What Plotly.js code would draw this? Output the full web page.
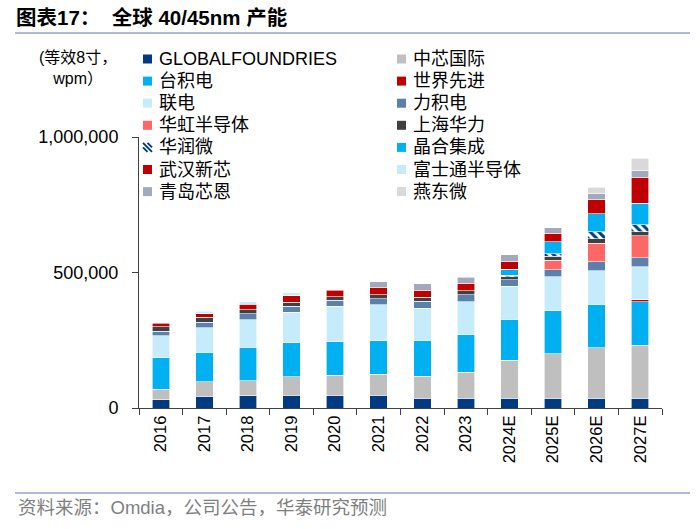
<!DOCTYPE html>
<html>
<head>
<meta charset="utf-8">
<script src="https://cdn.plot.ly/plotly-3.0.1.min.js"></script>
<style>html,body{margin:0;padding:0;background:#fff;}#chart{width:700px;height:529px;}</style>
</head>
<body>
<div id="chart"></div>
<script>
const categories = ['2016','2017','2018','2019','2020','2021','2022','2023','2024E','2025E','2026E','2027E'];
const seriesNames = ['GLOBALFOUNDRIES','中芯国际','台积电','世界先进','联电','力积电','华虹半导体','上海华力','华润微','晶合集成','武汉新芯','富士通半导体','青岛芯恩','燕东微'];
const globalfoundries = [31000,44000,46000,47000,47000,47000,36000,36000,36000,36000,36000,36000];
const smic      = [39000,53000,55000,68000,73000,77000,81000,96000,140000,164000,186000,196000];
const tsmc      = [115000,108000,123000,125000,124000,124000,133000,138000,151000,159000,160000,160000];
const vis       = [0,0,0,0,0,0,0,0,0,0,0,7000];
const umc       = [81000,92000,102000,114000,132000,133000,119000,122000,123000,125000,124000,123000];
const psmc      = [18000,20000,21000,22000,22000,22000,25000,25000,23000,27000,33000,33000];
const huahong   = [0,0,0,0,0,0,0,0,0,34000,69000,80000];
const hlmc      = [15000,17000,16000,15000,12000,15000,14000,15000,12000,15000,16000,15000];
const crmicro   = [0,0,0,0,0,0,0,0,4000,10000,26000,26000];
const nexchip   = [0,0,0,0,0,0,0,0,23000,43000,66000,80000];
const xmc       = [13000,13000,20000,23000,25000,25000,26000,28000,30000,31000,52000,96000];
const fujitsu   = [0,10000,9000,12000,0,0,0,0,0,0,0,0];
const qingdao   = [0,0,0,0,0,23000,25000,23000,23000,22000,23000,23000];
const yandong   = [0,0,0,0,0,0,0,0,0,0,23000,47000];
const yTickVals = [0,500000,1000000];
const yTickText = ['0','500,000','1,000,000'];

const seriesValues = [globalfoundries,smic,tsmc,vis,umc,psmc,huahong,hlmc,crmicro,nexchip,xmc,fujitsu,qingdao,yandong];
const colors = ['#003A80','#BFBFBF','#00B0F0','#C00000','#C6ECFB','#5B80AC','#FF6666','#404040','#003A80','#00B0F0','#C00000','#C6ECFB','#A3A9BD','#D9D9D9'];
const HATCHED = '华润微';

const FONT = '"Liberation Sans", Arial, "Noto Sans CJK SC", sans-serif';
const traces = seriesNames.map((name,i)=>{
  const marker = {color: colors[i], line:{color:'#ffffff', width:0.6}};
  if (name === HATCHED) {
    marker.color = '#ffffff';
    marker.pattern = {shape:'\\', fgcolor:colors[i], bgcolor:'#ffffff', size:6, solidity:0.5, fillmode:'replace'};
  }
  return {
    type:'bar', name:name, x:categories,
    y: seriesValues[i].map(v => v === 0 ? null : v),
    marker: marker, hoverinfo:'skip', showlegend:false
  };
});

const L=139, R=662, T=137, B=408;
const W=R-L, H=B-T;
const px = x => (x-L)/W;
const py = y => (B-y)/H;

const shapes = [
  {type:'line', xref:'paper', yref:'paper', x0:px(15), x1:px(690), y0:py(33), y1:py(33), line:{color:'#8FA6C6', width:1.5}},
  {type:'line', xref:'paper', yref:'paper', x0:px(15), x1:px(690), y0:py(493), y1:py(493), line:{color:'#8FA6C6', width:1.5}}
];
const annotations = [
  {xref:'paper', yref:'paper', x:px(78), y:py(68), xanchor:'center', yanchor:'middle', text:'(等效8寸，<br>wpm）', showarrow:false, align:'center', font:{size:16, family:FONT, color:'#000000'}},
  {xref:'paper', yref:'paper', x:px(16), y:py(507), xanchor:'left', yanchor:'middle', text:'资料来源：Omdia，公司公告，华泰研究预测', showarrow:false, font:{size:18.5, family:FONT, color:'#7F7F7F'}}
];

// legend: two columns, row-wise order
const colSym = [143, 397], colText = [157, 411];
const row0 = 59, rowGap = 22.1, S = 9;
seriesNames.forEach((name,i)=>{
  const c = i % 2, r = Math.floor(i/2);
  const cy = row0 + r*rowGap;
  const a = colSym[c], b = cy - S/2;
  if (name === HATCHED) {
    shapes.push({type:'rect', xref:'paper', yref:'paper', x0:px(a), x1:px(a+S), y0:py(b), y1:py(b+S), fillcolor:'#ffffff', line:{width:0}});
    const segs = [[a,b,a+S,b+S],[a+S/2,b,a+S,b+S/2],[a,b+S/2,a+S/2,b+S]];
    segs.forEach(s=>shapes.push({type:'line', xref:'paper', yref:'paper', x0:px(s[0]), y0:py(s[1]), x1:px(s[2]), y1:py(s[3]), line:{color:colors[i], width:2}}));
  } else {
    shapes.push({type:'rect', xref:'paper', yref:'paper', x0:px(a), x1:px(a+S), y0:py(b), y1:py(b+S), fillcolor:colors[i], line:{width:0}});
  }
  annotations.push({xref:'paper', yref:'paper', x:px(colText[c]), y:py(cy), xanchor:'left', yanchor:'middle', text:name, showarrow:false, font:{size:18, family:FONT, color:'#000000'}});
});

const layout = {
  width:700, height:529,
  margin:{l:L, r:700-R, t:T, b:529-B, pad:0},
  paper_bgcolor:'#ffffff', plot_bgcolor:'#ffffff',
  barmode:'stack', bargap:0.6,
  font:{family:FONT, color:'#000000'},
  title:{text:'<b>图表17：  全球 40/45nm 产能</b>', xref:'container', yref:'container', x:16/700, xanchor:'left', y:1-18/529, yanchor:'middle', font:{size:20.5, family:FONT, color:'#000000'}},
  showlegend:false,
  xaxis:{type:'category', showline:true, linecolor:'#404040', linewidth:1, ticks:'outside', tickson:'boundaries', ticklen:6, tickcolor:'#404040', tickangle:-90, tickfont:{size:16.5, family:FONT}, showgrid:false, zeroline:false, fixedrange:true},
  yaxis:{range:[0,1000000], tickvals:yTickVals, ticktext:yTickText, showline:true, linecolor:'#404040', linewidth:1, ticks:'outside', ticklen:6, tickcolor:'#404040', ticklabelstandoff:10, tickfont:{size:18, family:FONT}, showgrid:false, zeroline:false, fixedrange:true},
  shapes:shapes,
  annotations:annotations
};

Plotly.newPlot('chart', traces, layout, {displayModeBar:false, staticPlot:true});
</script>
</body>
</html>
